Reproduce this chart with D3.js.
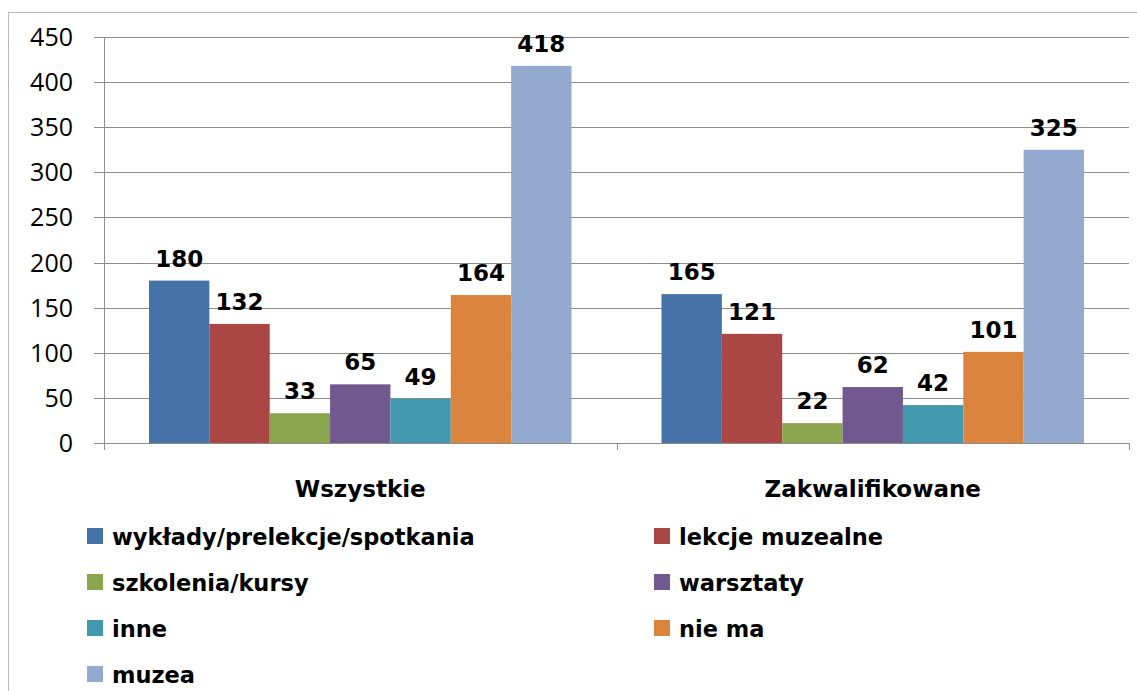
<!DOCTYPE html>
<html>
<head>
<meta charset="utf-8">
<script src="https://cdn.jsdelivr.net/npm/d3@7"></script>
<style>
  body { margin: 0; background: #fff; }
  svg { display: block; font-family: "Open Sans", sans-serif; }
  .bold { font-family: "DejaVu Sans", sans-serif; font-weight: bold; }
</style>
</head>
<body>
<svg id="chart" width="1137" height="691"></svg>
<script>
const categories = ["Wszystkie", "Zakwalifikowane"];
const seriesNames = ["wykłady/prelekcje/spotkania", "lekcje muzealne", "szkolenia/kursy",
  "warsztaty", "inne", "nie ma", "muzea"];
const seriesColors = ["#4572A7", "#AA4643", "#89A54E", "#71588F", "#4198AF", "#DB843D", "#93A9CF"];
const valuesWszystkie = [180, 132, 33, 65, 49, 164, 418];
const valuesZakwalifikowane = [165, 121, 22, 62, 42, 101, 325];
const yTicks = [0, 50, 100, 150, 200, 250, 300, 350, 400, 450];

const values = [valuesWszystkie, valuesZakwalifikowane];

const svg = d3.select("#chart");
const margin = {top: 37, left: 104, right: 1129, bottom: 443};

// outer chart frame (right/bottom edges fall outside the picture)
svg.append("rect")
  .attr("x", 8.5).attr("y", 12.5)
  .attr("width", 1140).attr("height", 690)
  .attr("fill", "none")
  .attr("stroke", "#b9b9b9");

const x0 = d3.scaleBand().domain(categories).range([margin.left, margin.right]);
const gap = 45;
const x1 = d3.scaleBand().domain(d3.range(seriesNames.length)).range([gap, x0.bandwidth() - gap]);
const y = d3.scaleLinear().domain([0, 450]).range([margin.bottom, margin.top]);

// gridlines
svg.append("g").selectAll("line")
  .data(yTicks)
  .enter().append("line")
    .attr("x1", margin.left - 10).attr("x2", margin.right)
    .attr("y1", function(d) { return Math.round(y(d)) + 0.5; })
    .attr("y2", function(d) { return Math.round(y(d)) + 0.5; })
    .attr("stroke", "#8c8c8c");

// y tick labels
svg.append("g").selectAll("text")
  .data(yTicks)
  .enter().append("text")
    .attr("x", 73)
    .attr("y", function(d) { return y(d); })
    .attr("dy", "0.36em")
    .attr("text-anchor", "end")
    .style("font-size", "25px")
    .attr("fill", "#000")
    .text(function(d) { return d; });

// y axis line
svg.append("line")
  .attr("x1", margin.left + 0.5).attr("x2", margin.left + 0.5)
  .attr("y1", margin.top).attr("y2", margin.bottom + 7)
  .attr("stroke", "#8c8c8c");

// x axis category boundary ticks
const bounds = [margin.left, margin.left + x0.bandwidth(), margin.right];
svg.append("g").selectAll("line")
  .data(bounds)
  .enter().append("line")
    .attr("x1", function(d) { return Math.round(d) + 0.5; })
    .attr("x2", function(d) { return Math.round(d) + 0.5; })
    .attr("y1", margin.bottom).attr("y2", margin.bottom + 7)
    .attr("stroke", "#8c8c8c");

// bars
const groups = svg.selectAll(".cat")
  .data(categories)
  .enter().append("g")
    .attr("class", "cat")
    .attr("transform", function(d) { return "translate(" + x0(d) + ",0)"; });

groups.selectAll("rect")
  .data(function(d, i) { return values[i].map(function(v, j) { return {v: v, j: j}; }); })
  .enter().append("rect")
    .attr("x", function(d) { return x1(d.j); })
    .attr("width", x1.bandwidth())
    .attr("y", function(d) { return y(d.v); })
    .attr("height", function(d) { return y(0) - y(d.v); })
    .attr("fill", function(d) { return seriesColors[d.j]; });

groups.selectAll("text.lbl")
  .data(function(d, i) { return values[i].map(function(v, j) { return {v: v, j: j}; }); })
  .enter().append("text")
    .attr("class", "lbl bold")
    .attr("x", function(d) { return x1(d.j) + x1.bandwidth() / 2; })
    .attr("y", function(d) { return y(d.v) - 14; })
    .attr("text-anchor", "middle")
    .style("font-size", "23px")
    .attr("fill", "#000")
    .text(function(d) { return d.v; });

// category labels
svg.append("g").selectAll("text")
  .data(categories)
  .enter().append("text")
    .attr("class", "bold")
    .attr("x", function(d) { return x0(d) + x0.bandwidth() / 2; })
    .attr("y", 497)
    .attr("text-anchor", "middle")
    .style("font-size", "23px")
    .attr("fill", "#000")
    .text(function(d) { return d; });

// legend
const legend = svg.append("g").selectAll("g")
  .data(seriesNames)
  .enter().append("g")
    .attr("transform", function(d, i) {
      return "translate(" + (i % 2 == 0 ? 87 : 654) + "," + (536 + Math.floor(i / 2) * 46) + ")";
    });

legend.append("rect")
  .attr("x", 0).attr("y", -8)
  .attr("width", 16).attr("height", 16)
  .attr("fill", function(d, i) { return seriesColors[i]; });

legend.append("text")
  .attr("class", "bold")
  .attr("x", 25).attr("y", 9)
  .style("font-size", "22.5px")
  .attr("fill", "#000")
  .text(function(d) { return d; });
</script>
</body>
</html>
